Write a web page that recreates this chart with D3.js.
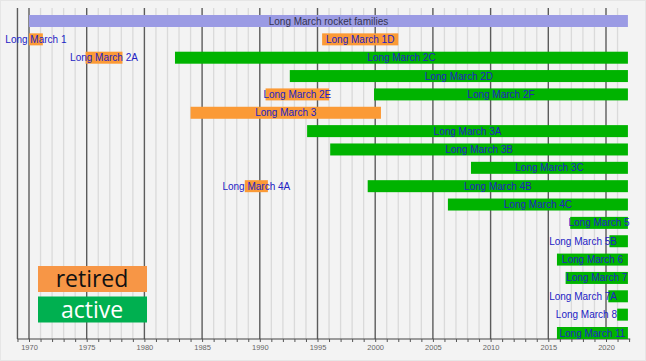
<!DOCTYPE html>
<html>
<head>
<meta charset="utf-8">
<script src="https://cdn.jsdelivr.net/npm/d3@7"></script>
<style>
  html, body { margin: 0; padding: 0; background: #fff; }
  svg { display: block; }
</style>
</head>
<body>
<script>
// rocket families, one bar each
const names = ["Long March rocket families", "Long March 1", "Long March 1D", "Long March 2A", "Long March 2C",
  "Long March 2D", "Long March 2E", "Long March 2F", "Long March 3", "Long March 3A", "Long March 3B",
  "Long March 3C", "Long March 4A", "Long March 4B", "Long March 4C", "Long March 5", "Long March 5B",
  "Long March 6", "Long March 7", "Long March 7A", "Long March 8", "Long March 11"];
const rows = [0, 1, 1, 2, 2, 3, 4, 4, 5, 6, 7, 8, 9, 9, 10, 11, 12, 13, 14, 15, 16, 17];
const starts = [1970, 1970, 1995.4, 1974.9, 1982.65, 1992.6, 1990.5, 1999.9, 1984.0, 1994.1, 1996.1,
  2008.3, 1988.7, 1999.35, 2006.3, 2016.9, 2020.3, 2015.75, 2016.5, 2020.2, 2020.97, 2015.75];
const ends = [2021.9, 1971.2, 2002, 1978.1, 2021.9, 2021.9, 1996.0, 2021.9, 2000.5, 2021.9, 2021.9,
  2021.9, 1990.7, 2021.9, 2021.9, 2021.9, 2021.9, 2021.9, 2021.9, 2021.9, 2021.9, 2021.9];
const status = ["family", "retired", "retired", "retired", "active", "active", "retired", "active",
  "retired", "active", "active", "active", "retired", "active", "active", "active", "active", "active",
  "active", "active", "active", "active"];
const tickYears = [1970, 1975, 1980, 1985, 1990, 1995, 2000, 2005, 2010, 2015, 2020];
const legendLabels = ["retired", "active"];

const width = 646, height = 361;
const colors = {family: "#9b9be4", retired: "#fb9a36", active: "#00b300"};

const svg = d3.select("body").append("svg")
  .attr("width", width)
  .attr("height", height);

svg.append("rect")
  .attr("x", 0.5).attr("y", 0.5)
  .attr("width", width - 1).attr("height", height - 1)
  .attr("fill", "#f3f3f3")
  .attr("stroke", "#e6e6e6");

const x = d3.scaleLinear().domain([1970, 2020]).range([29, 606]);
const y = d3.scalePoint().domain(d3.range(18)).range([21, 333]);
const barH = 12;
const plotTop = 8, axisY = 339;
const x0 = 1969, x1 = 2022.1;

// yearly grid lines
svg.append("g")
  .selectAll("line")
  .data(d3.range(1970, 2022).filter(v => v % 5 !== 0))
  .join("line")
  .attr("x1", d => x(d)).attr("x2", d => x(d))
  .attr("y1", plotTop).attr("y2", axisY)
  .attr("stroke", "#dadada")
  .attr("stroke-width", 1.3);

// 5 year lines
svg.append("g")
  .selectAll("line")
  .data(tickYears.concat([x0]))
  .join("line")
  .attr("x1", d => x(d)).attr("x2", d => x(d))
  .attr("y1", plotTop).attr("y2", axisY)
  .attr("stroke", "#5c5c5c")
  .attr("stroke-width", 1.4);

// bottom axis
const axis = d3.axisBottom(x)
  .tickValues(d3.range(x0, 2023))
  .tickSize(3)
  .tickFormat(d => tickYears.includes(d) ? d : "");
const ax = svg.append("g")
  .attr("transform", `translate(0,${axisY})`)
  .call(axis);
ax.select(".domain").attr("d", `M${x(x0)},0H${x(x1)}`).attr("stroke", "#444").attr("stroke-width", 1.2);
ax.selectAll(".tick line").attr("stroke", "#555");
ax.selectAll(".tick text")
  .attr("y", 6)
  .attr("fill", "#666")
  .style("font", "7.5px 'Liberation Sans', Arial, sans-serif");

const bars = names.map((n, i) => ({name: n, row: rows[i], start: starts[i], end: ends[i], status: status[i]}));

svg.append("g")
  .selectAll("rect")
  .data(bars)
  .join("rect")
  .attr("x", d => x(d.start))
  .attr("y", d => y(d.row) - barH / 2)
  .attr("width", d => x(d.end) - x(d.start))
  .attr("height", d => barH)
  .attr("fill", d => colors[d.status]);

const labels = svg.append("g")
  .selectAll("text")
  .data(bars)
  .join("text")
  .attr("y", d => y(d.row))
  .attr("dy", "0.35em")
  .attr("text-anchor", "middle")
  .attr("fill", d => d.status === "family" ? "#33334f" : "#2222c4")
  .style("font", "10px 'Liberation Sans', Arial, sans-serif")
  .text(d => d.name);

// centre on the bar, but keep labels from running off the right side
labels.attr("x", function(d) {
  const c = (x(d.start) + x(d.end)) / 2;
  const w = this.getComputedTextLength();
  if (c + w / 2 > 632) return 617 - w / 2;
  return c;
});

// legend
const legend = svg.append("g");
legend.selectAll("rect")
  .data(legendLabels)
  .join("rect")
  .attr("x", 38)
  .attr("y", (d, i) => 266 + i * 30.5)
  .attr("width", 109)
  .attr("height", 26)
  .attr("fill", (d, i) => i === 0 ? "#f79646" : "#00b050");
legend.selectAll("text")
  .data(legendLabels)
  .join("text")
  .attr("x", 92)
  .attr("y", (d, i) => 279 + i * 30.5)
  .attr("dy", "0.36em")
  .attr("text-anchor", "middle")
  .attr("fill", (d, i) => i === 0 ? "#111" : "#fff")
  .style("font", "23px 'Open Sans', sans-serif")
  .text(d => d);
</script>
</body>
</html>
